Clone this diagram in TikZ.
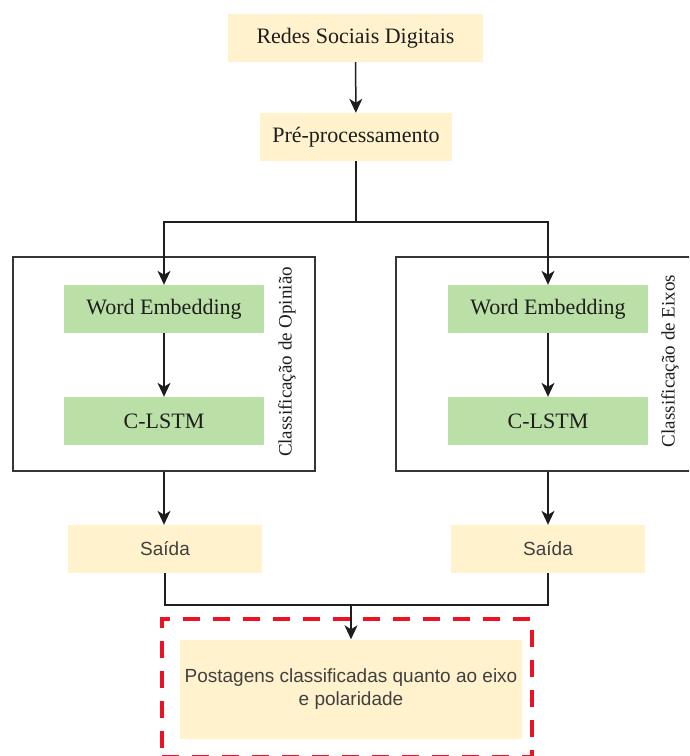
\documentclass[tikz,border=0pt]{standalone}
\usepackage{fontspec}
\setmainfont{Liberation Serif}
\newfontfamily\arialfont{Liberation Sans}
\usetikzlibrary{arrows.meta}
\definecolor{beige}{RGB}{255,242,204}
\definecolor{leaf}{RGB}{187,224,167}
\definecolor{ink}{RGB}{30,30,30}
\definecolor{alertred}{RGB}{236,18,38}
\begin{document}
\begin{tikzpicture}[x=1pt,y=-1pt,
  box/.style={draw=none, inner sep=0pt, text=ink, font=\fontsize{22}{26}\selectfont},
  cream/.style={box, fill=beige},
  greenbox/.style={box, fill=leaf, minimum width=200pt, minimum height=48pt},
  sansbox/.style={cream, font=\arialfont\fontsize{19}{23}\selectfont, text=ink!85},
  sidelabel/.style={inner sep=0pt, text=ink, rotate=90, font=\fontsize{19}{22}\selectfont},
  link/.style={line width=1.5pt, draw=ink},
  arrow/.style={link, -{Stealth[length=14pt,width=13pt,inset=4pt]}},
  frame/.style={draw=ink!90, line width=1.5pt, inner sep=0pt},
  focus/.style={draw=alertred, line width=4pt, dash pattern=on 17pt off 13pt, inner sep=0pt}
]
\useasboundingbox (0,0) rectangle (689,756);
\clip (0,0) rectangle (689,756);

% source and preprocessing
\node[cream, minimum width=255pt, minimum height=48pt] (redes) at (355.5,38) {Redes Sociais Digitais};
\node[cream, minimum width=192pt, minimum height=48pt] (pre) at (356,137) {Pré-processamento};

% opinion classification branch
\node[frame, minimum width=302pt, minimum height=214pt] (frameA) at (164,364) {};
\node[greenbox] (weA) at (164,309) {Word Embedding};
\node[greenbox] (clA) at (164,421) {C-LSTM};
\node[sidelabel] (labA) at (287,362) {Classificação de Opinião};

% axis classification branch
\node[frame, minimum width=304pt, minimum height=214pt] (frameB) at (548,364) {};
\node[greenbox] (weB) at (548,309) {Word Embedding};
\node[greenbox] (clB) at (548,421) {C-LSTM};
\node[sidelabel] (labB) at (670,361) {Classificação de Eixos};

% outputs
\node[sansbox, minimum width=194pt, minimum height=48pt] (saidaA) at (165,549) {Saída};
\node[sansbox, minimum width=194pt, minimum height=48pt] (saidaB) at (548,549) {Saída};

% final result
\node[focus, minimum width=370pt, minimum height=138pt] (area) at (347,688) {};
\node[sansbox, minimum width=342pt, minimum height=99pt, align=center] (post) at (351,689)
  {Postagens classificadas quanto ao eixo\\e polaridade};

% connectors
\coordinate (split) at (356,222);
\coordinate (merge) at (351,605);
\draw[arrow] (redes) -- (pre);
\draw[arrow] (pre.south) -- (split) -| (weA.north);
\draw[arrow] (split) -| (weB.north);
\draw[arrow] (weA) -- (clA);
\draw[arrow] (weB) -- (clB);
\draw[arrow] (frameA.south) -- (frameA.south |- saidaA.north);
\draw[arrow] (frameB.south) -- (frameB.south |- saidaB.north);
\draw[link] (saidaA.south) |- (merge) -| (saidaB.south);
\draw[arrow] (merge) -- (post.north |- area.north) -- (post.north);
\end{tikzpicture}
\end{document}
